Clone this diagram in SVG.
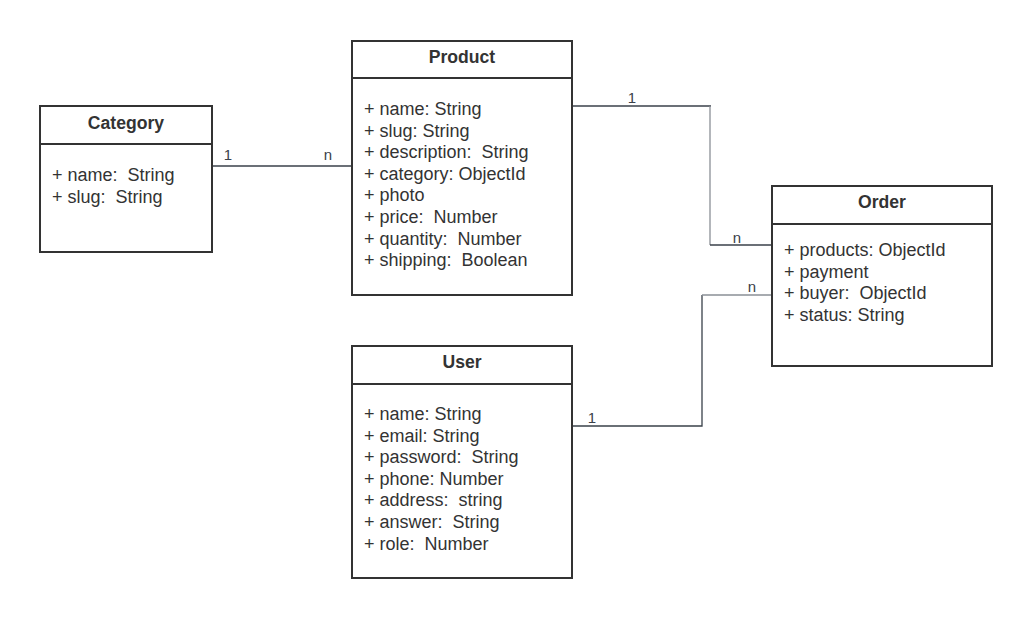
<svg xmlns="http://www.w3.org/2000/svg" width="1032" height="618" viewBox="0 0 1032 618">
<style>
.box{fill:#fff;stroke:#333;stroke-width:2}
.sep{stroke:#333;stroke-width:2}
.t{font-family:"Liberation Sans",Arial,sans-serif;font-size:18px;fill:#333}
.h{font-family:"Liberation Sans",Arial,sans-serif;font-size:17.6px;font-weight:bold;fill:#333;text-anchor:middle}
.c{fill:none;stroke:#3a414a;stroke-width:1.3}
.cg{fill:none;stroke:#8a8f96;stroke-width:1.3}
.l{font-family:"Liberation Sans",Arial,sans-serif;font-size:15px;fill:#3a414a;text-anchor:middle}
</style>
<rect width="1032" height="618" fill="#fff"/>
<g id="connectors">
<path class="c" d="M212 166H352"/>
<path class="c" d="M572 106H711"/>
<path class="cg" d="M710 106V245"/>
<path class="c" d="M710 245H772"/>
<path class="c" d="M572 426H702V295"/>
<path class="cg" d="M702 295H772"/>
<text class="l" x="228" y="160">1</text>
<text class="l" x="328" y="160">n</text>
<text class="l" x="632" y="103">1</text>
<text class="l" x="737" y="243">n</text>
<text class="l" x="752" y="292">n</text>
<text class="l" x="592" y="423">1</text>
</g>
<g id="category">
<rect class="box" x="40" y="106" width="172" height="146"/>
<line class="sep" x1="40" y1="144" x2="212" y2="144"/>
<text class="h" x="126" y="129">Category</text>
<text class="t" x="52" y="181" xml:space="preserve">+ name:  String</text>
<text class="t" x="52" y="202.6" xml:space="preserve">+ slug:  String</text>
</g>
<g id="product">
<rect class="box" x="352" y="41" width="220" height="254"/>
<line class="sep" x1="352" y1="78" x2="572" y2="78"/>
<text class="h" x="462" y="63">Product</text>
<text class="t" x="364" y="115" xml:space="preserve">+ name: String</text>
<text class="t" x="364" y="136.6" xml:space="preserve">+ slug: String</text>
<text class="t" x="364" y="158.2" xml:space="preserve">+ description:  String</text>
<text class="t" x="364" y="179.8" xml:space="preserve">+ category: ObjectId</text>
<text class="t" x="364" y="201.4" xml:space="preserve">+ photo</text>
<text class="t" x="364" y="223" xml:space="preserve">+ price:  Number</text>
<text class="t" x="364" y="244.6" xml:space="preserve">+ quantity:  Number</text>
<text class="t" x="364" y="266.2" xml:space="preserve">+ shipping:  Boolean</text>
</g>
<g id="order">
<rect class="box" x="772" y="186" width="220" height="180"/>
<line class="sep" x1="772" y1="224" x2="992" y2="224"/>
<text class="h" x="882" y="208">Order</text>
<text class="t" x="784" y="256" xml:space="preserve">+ products: ObjectId</text>
<text class="t" x="784" y="277.6" xml:space="preserve">+ payment</text>
<text class="t" x="784" y="299.2" xml:space="preserve">+ buyer:  ObjectId</text>
<text class="t" x="784" y="320.8" xml:space="preserve">+ status: String</text>
</g>
<g id="user">
<rect class="box" x="352" y="346" width="220" height="232"/>
<line class="sep" x1="352" y1="384" x2="572" y2="384"/>
<text class="h" x="462" y="368">User</text>
<text class="t" x="364" y="420" xml:space="preserve">+ name: String</text>
<text class="t" x="364" y="441.6" xml:space="preserve">+ email: String</text>
<text class="t" x="364" y="463.2" xml:space="preserve">+ password:  String</text>
<text class="t" x="364" y="484.8" xml:space="preserve">+ phone: Number</text>
<text class="t" x="364" y="506.4" xml:space="preserve">+ address:  string</text>
<text class="t" x="364" y="528" xml:space="preserve">+ answer:  String</text>
<text class="t" x="364" y="549.6" xml:space="preserve">+ role:  Number</text>
</g>
</svg>
